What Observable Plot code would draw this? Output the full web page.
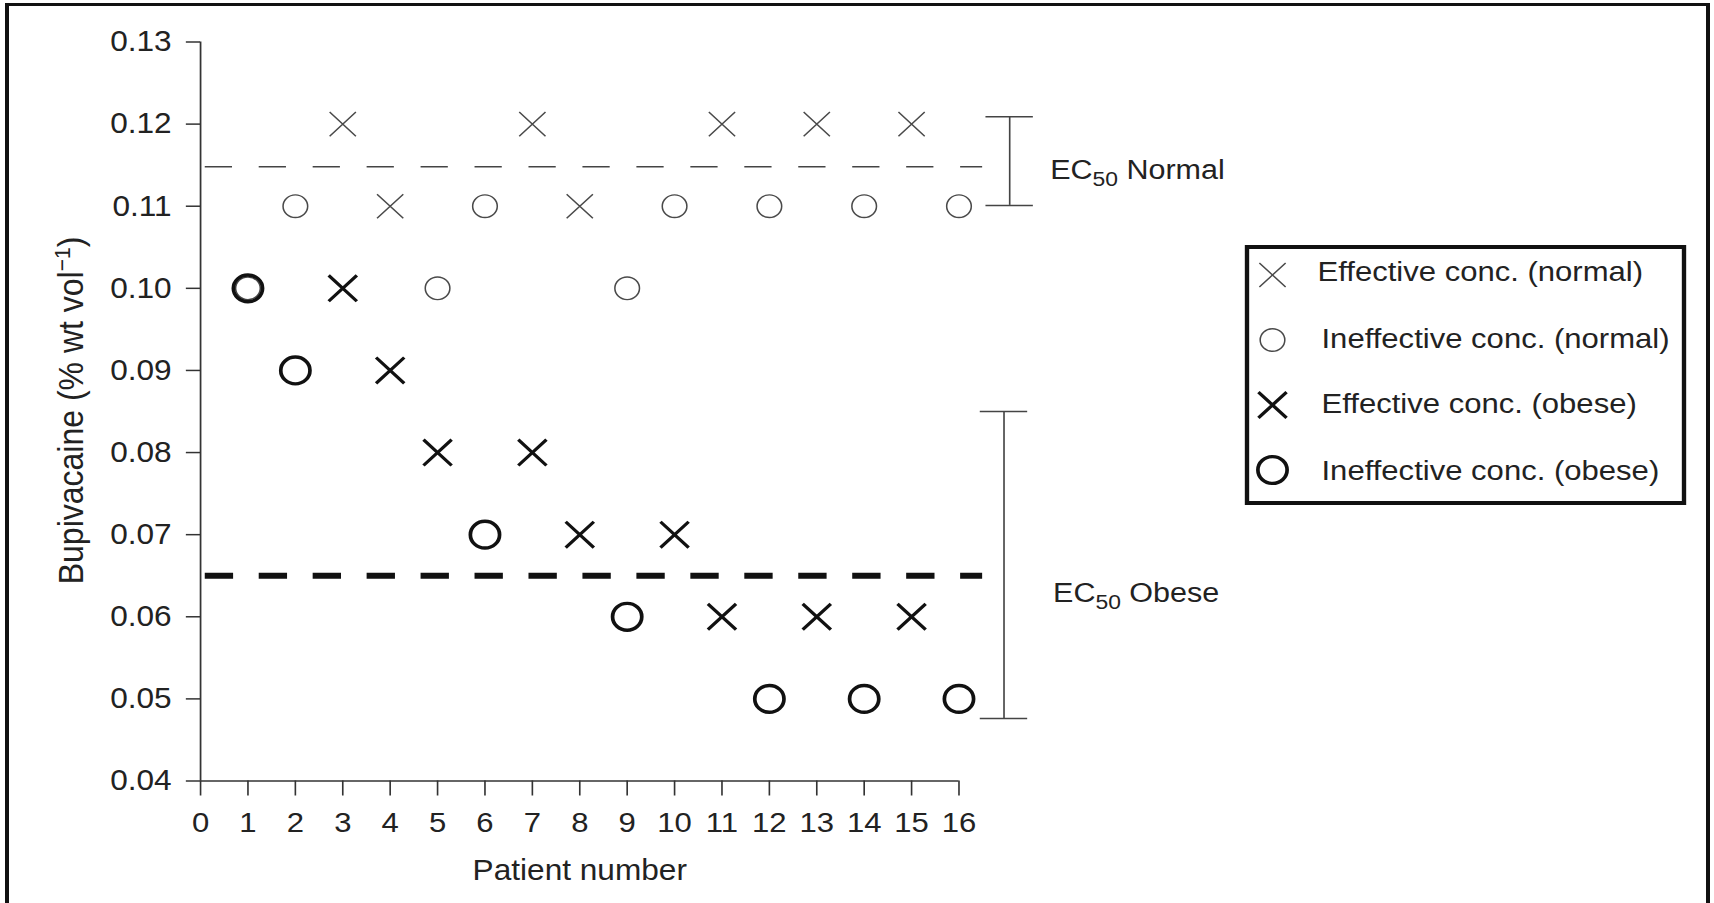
<!DOCTYPE html>
<html>
<head>
<meta charset="utf-8">
<script src="https://cdn.jsdelivr.net/npm/d3@7"></script>
<script src="https://cdn.jsdelivr.net/npm/@observablehq/plot@0.6"></script>
<style>
  html, body { margin: 0; padding: 0; background: #fff; overflow: hidden; }
  #wrap { position: relative; width: 1714px; height: 903px; overflow: hidden; background: #fff; }
  #chart { position: absolute; left: 0; top: 0; }
  #frame { position: absolute; left: 4.5px; top: 3px; width: 1705px; height: 1000px;
           border: 4px solid #111; border-top-width: 3.5px; border-bottom: none; box-sizing: border-box; pointer-events: none; }
</style>
</head>
<body>
<div id="wrap"><div id="chart"></div><div id="frame"></div></div>
<script>
// ---------------- data ----------------
const patients = [1, 2, 3, 4, 5, 6, 7, 8, 9, 10, 11, 12, 13, 14, 15, 16];
const normalConc = [0.10, 0.11, 0.12, 0.11, 0.10, 0.11, 0.12, 0.11, 0.10, 0.11, 0.12, 0.11, 0.12, 0.11, 0.12, 0.11];
const normalOutcome = ["ineffective", "ineffective", "effective", "effective", "ineffective", "ineffective", "effective", "effective",
                       "ineffective", "ineffective", "effective", "ineffective", "effective", "ineffective", "effective", "ineffective"];
const obeseConc = [0.10, 0.09, 0.10, 0.09, 0.08, 0.07, 0.08, 0.07, 0.06, 0.07, 0.06, 0.05, 0.06, 0.05, 0.06, 0.05];
const obeseOutcome = ["ineffective", "ineffective", "effective", "effective", "effective", "ineffective", "effective", "effective",
                      "ineffective", "effective", "effective", "ineffective", "effective", "ineffective", "effective", "ineffective"];

const ecGroups = ["Normal", "Obese"];
const ecValue = [0.1148, 0.0650];
const ecLow = [0.1101, 0.0476];
const ecHigh = [0.1209, 0.0850];

const xTicks = [0, 1, 2, 3, 4, 5, 6, 7, 8, 9, 10, 11, 12, 13, 14, 15, 16];
const yTicks = [0.04, 0.05, 0.06, 0.07, 0.08, 0.09, 0.10, 0.11, 0.12, 0.13];

const xLabel = "Patient number";
const yLabelMain = "Bupivacaine (% wt vol";
const yLabelSup = "\u22121";
const legendLabels = ["Effective conc. (normal)", "Ineffective conc. (normal)", "Effective conc. (obese)", "Ineffective conc. (obese)"];

// ---------------- tables ----------------
const normalData = patients.map((p, i) => ({patient: p, conc: normalConc[i], outcome: normalOutcome[i]}));
const obeseData = patients.map((p, i) => ({patient: p, conc: obeseConc[i], outcome: obeseOutcome[i]}));

// ---------------- layout / style ----------------
const FONT = '"Liberation Sans", Arial, Helvetica, sans-serif';
const K = 1.09;             // horizontal stretch of the reference figure
const W = 1714 / K;
const H = 903;
const barX = [17.07, 16.95]; // x position of the EC50 range brackets (layout)
const capHalf = 0.5;

const styles = {
  normal: {ineffective: {symbol: "circle", r: 11.3, stroke: "#4a4a4a", strokeWidth: 1.4},
           effective:   {symbol: "times",  r: 11.0, stroke: "#4a4a4a", strokeWidth: 1.4}},
  obese:  {ineffective: {symbol: "circle", r: 13.4, stroke: "#111",    strokeWidth: 3.4},
           effective:   {symbol: "times",  r: 11.8, stroke: "#111",    strokeWidth: 3.1}}
};

function dots(data, group, outcome) {
  const s = styles[group][outcome];
  return Plot.dot(data.filter(d => d.outcome === outcome), {
    x: "patient", y: "conc", symbol: s.symbol, r: s.r, stroke: s.stroke, strokeWidth: s.strokeWidth, fill: "none"
  });
}

const bars = ecGroups.map((g, i) => ({group: g, x: barX[i], lo: ecLow[i], hi: ecHigh[i]}));
const caps = bars.flatMap(b => [
  {y: b.lo, x1: b.x - capHalf, x2: b.x + capHalf},
  {y: b.hi, x1: b.x - capHalf, x2: b.x + capHalf}
]);

const svg = Plot.plot({
  width: W,
  height: H,
  marginLeft: 183.5,
  marginRight: W - 879.3,
  marginTop: 41.5,
  marginBottom: 122.5,
  x: {domain: [0, 16]},
  y: {domain: [0.04, 0.13]},
  style: {fontFamily: FONT, fontSize: "28px", color: "#222", background: "white"},
  marks: [
    // axis lines
    Plot.ruleX([0], {y1: 0.04, y2: 0.13, stroke: "#333", strokeWidth: 1.6}),
    Plot.ruleY([0.04], {x1: 0, x2: 16, stroke: "#333", strokeWidth: 1.6}),
    Plot.axisY({ticks: yTicks, tickFormat: d3.format(".2f"), tickSize: 13, tickPadding: 13.5, label: null,
                stroke: "#333", strokeWidth: 1.5, fill: "#222", fontSize: 29}),
    Plot.axisX({ticks: xTicks, tickFormat: d3.format("d"), tickSize: 15, tickPadding: 15.5, label: null,
                stroke: "#333", strokeWidth: 1.5, fill: "#222", fontSize: 28.5}),
    // EC50 dashed lines
    Plot.ruleY([ecValue[0]], {x1: 0.1, x2: 16.5, stroke: "#444", strokeWidth: 1.5, strokeDasharray: "25 24.5"}),
    Plot.ruleY([ecValue[1]], {x1: 0.1, x2: 16.5, stroke: "#111", strokeWidth: 6, strokeDasharray: "26 23.5"}),
    // EC50 range brackets
    Plot.ruleX(bars, {x: "x", y1: "lo", y2: "hi", stroke: "#444", strokeWidth: 1.5}),
    Plot.ruleY(caps, {y: "y", x1: "x1", x2: "x2", stroke: "#444", strokeWidth: 1.5}),
    // points
    dots(normalData, "normal", "ineffective"),
    dots(normalData, "normal", "effective"),
    dots(obeseData, "obese", "ineffective"),
    dots(obeseData, "obese", "effective"),
    // x axis label
    Plot.text([xLabel], {text: d => d, frameAnchor: "bottom", dy: 98.8, lineAnchor: "bottom", fontSize: 29, fill: "#222"})
  ]
});

// stretch horizontally like the reference figure
svg.setAttribute("width", 1714);
svg.setAttribute("height", 903);
svg.setAttribute("preserveAspectRatio", "none");
svg.style.width = "1714px";
svg.style.height = "903px";
svg.style.maxWidth = "none";

const xs = svg.scale("x"), ys = svg.scale("y");
const root = d3.select(svg);

// y axis label with superscript
const yMid = (ys.apply(0.04) + ys.apply(0.13)) / 2 - 0.5;
const yl = root.append("text")
  .attr("transform", `translate(76.2, ${yMid}) rotate(-90)`)
  .attr("text-anchor", "middle")
  .attr("font-family", FONT).attr("font-size", 32).attr("fill", "#222")
  .style("white-space", "pre");
yl.append("tspan").text(yLabelMain);
yl.append("tspan").attr("font-size", 21).attr("dy", -12).text(yLabelSup);
yl.append("tspan").attr("dy", 12).text(")");

// EC50 labels with subscript
const ecLabelOffsets = [{dx: 37.6, dy: 12.7}, {dx: 45.5, dy: 26.3}];
ecGroups.forEach((g, i) => {
  const t = root.append("text")
    .attr("x", xs.apply(barX[i]) + ecLabelOffsets[i].dx)
    .attr("y", ys.apply(ecValue[i]) + ecLabelOffsets[i].dy)
    .attr("text-anchor", "start")
    .attr("font-family", FONT).attr("font-size", 28).attr("fill", "#222")
    .style("white-space", "pre");
  t.append("tspan").text("EC");
  t.append("tspan").attr("font-size", 21).attr("dy", 7).text("50");
  t.append("tspan").attr("dy", -7).text(" " + g);
});

// legend
const lg = root.append("g").attr("font-family", FONT).attr("font-size", 28.5).attr("fill", "#222")
  .attr("text-anchor", "start");
lg.append("rect")
  .attr("x", 1247 / K).attr("y", 247).attr("width", 437 / K).attr("height", 256)
  .attr("fill", "white").attr("stroke", "#111").attr("stroke-width", 4);
const legendStyles = [styles.normal.effective, styles.normal.ineffective, styles.obese.effective, styles.obese.ineffective];
const legendSymY = [275, 340, 405, 470];
const legendTextY = [281, 348, 413.5, 480];
const legendTextX = [1317.5 / K, 1321.5 / K, 1321.5 / K, 1321.5 / K];
legendLabels.forEach((label, i) => {
  const s = legendStyles[i];
  const type = s.symbol === "times" ? d3.symbolTimes : d3.symbolCircle;
  lg.append("path")
    .attr("transform", `translate(${1272.5 / K}, ${legendSymY[i]})`)
    .attr("d", d3.symbol(type, Math.PI * s.r * s.r)())
    .attr("fill", "none").attr("stroke", s.stroke).attr("stroke-width", s.strokeWidth);
  lg.append("text").attr("x", legendTextX[i]).attr("y", legendTextY[i]).attr("text-anchor", "start").text(label);
});

document.getElementById("chart").appendChild(svg);
</script>
</body>
</html>
